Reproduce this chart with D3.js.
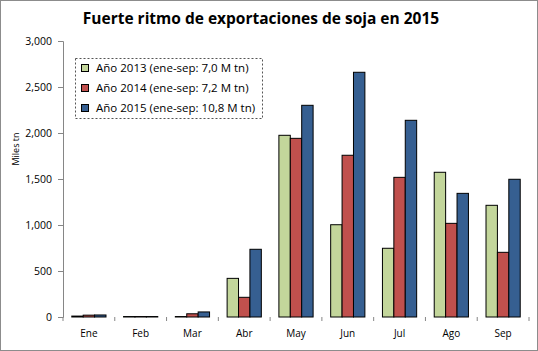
<!DOCTYPE html>
<html><head><meta charset="utf-8">
<script src="https://cdn.jsdelivr.net/npm/d3@7"></script>
<style>body{margin:0;background:#fff;} svg{display:block;}</style>
</head><body>
<svg id="c" width="538" height="351"></svg>
<script>
const months = ["Ene","Feb","Mar","Abr","May","Jun","Jul","Ago","Sep"];
const seriesNames = ["Año 2013 (ene-sep: 7,0 M tn)","Año 2014 (ene-sep: 7,2 M tn)","Año 2015 (ene-sep: 10,8 M tn)"];
const v2013 = [10, 5, 5, 420, 1975, 1003, 747, 1573, 1214];
const v2014 = [20, 5, 35, 214, 1942, 1758, 1518, 1018, 703];
const v2015 = [22, 5, 55, 736, 2301, 2660, 2138, 1344, 1497];
const yTicks = [0, 500, 1000, 1500, 2000, 2500, 3000];
const colors = ["#c3d69b", "#c0504d", "#365f91"];
const title = "Fuerte ritmo de exportaciones de soja en 2015";
const yLabel = "Miles tn";

(function(){
const svg = d3.select("#c");
const font = "'Open Sans', 'DejaVu Sans', sans-serif";
svg.append("rect").attr("x",0.5).attr("y",0.5).attr("width",537).attr("height",350)
  .attr("fill","#fff").attr("stroke","#8c8c8c");

const pl=63, pr=529, pt=41, pb=317;
const x = d3.scaleBand().domain(months).range([pl,pr]).paddingInner(0).paddingOuter(0);
const x1 = d3.scaleBand().domain([0,1,2]).range([0, x.bandwidth()]).paddingInner(0).paddingOuter(0.77);
const y = d3.scaleLinear().domain([0,3000]).range([pb, pt]);

svg.append("text").attr("x",261).attr("y",24).attr("text-anchor","middle")
  .attr("font-family",font).attr("font-weight","bold").attr("font-size",15.5).attr("fill","#000")
  .text(title);

const series = [v2013, v2014, v2015];
series.forEach((vals, si) => {
  svg.append("g").selectAll("rect").data(vals).join("rect")
    .attr("x",(d,i)=>x(months[i]) + x1(si))
    .attr("width", x1.bandwidth())
    .attr("y", d=>y(d))
    .attr("height", d=>pb - y(d))
    .attr("fill", colors[si]).attr("stroke","#000").attr("stroke-width",1);
});

const ya = svg.append("g").attr("transform",`translate(${pl},0)`)
  .call(d3.axisLeft(y).tickValues(yTicks).tickSize(5).tickPadding(6).tickFormat(d3.format(",")));
ya.select(".domain").attr("stroke","#868686");
ya.selectAll(".tick line").attr("stroke","#868686");
ya.selectAll("text").attr("font-family",font).attr("font-size",10.5).attr("fill","#000");

const xa = svg.append("g").attr("transform",`translate(0,${pb})`);
const bounds = months.map(m=>x(m)).concat([pr]);
xa.selectAll("line").data(bounds).join("line")
  .attr("x1",d=>d).attr("x2",d=>d).attr("y1",0).attr("y2",4).attr("stroke","#868686");
xa.selectAll("text").data(months).join("text")
  .attr("x",d=>x(d)+x.bandwidth()/2).attr("y",20).attr("text-anchor","middle")
  .attr("font-family",font).attr("font-size",10).attr("fill","#000").text(d=>d);

svg.append("text").attr("transform","translate(19,149) rotate(-90)").attr("text-anchor","middle")
  .attr("font-family",font).attr("font-size",9).attr("fill","#000").text(yLabel);

const lg = svg.append("g");
lg.append("rect").attr("x",75.5).attr("y",58.5).attr("width",187).attr("height",60)
  .attr("fill","#fff").attr("stroke","#555").attr("stroke-dasharray","2,2");
seriesNames.forEach((n,i)=>{
  const yy = 68 + i*20;
  lg.append("rect").attr("x",81.5).attr("y",yy-3.5).attr("width",7).attr("height",7)
    .attr("fill",colors[i]).attr("stroke","#000");
  lg.append("text").attr("x",96).attr("y",yy+4).attr("font-family",font).attr("font-size",11.5)
    .attr("fill","#000").text(n);
});
})();
</script>
</body></html>
